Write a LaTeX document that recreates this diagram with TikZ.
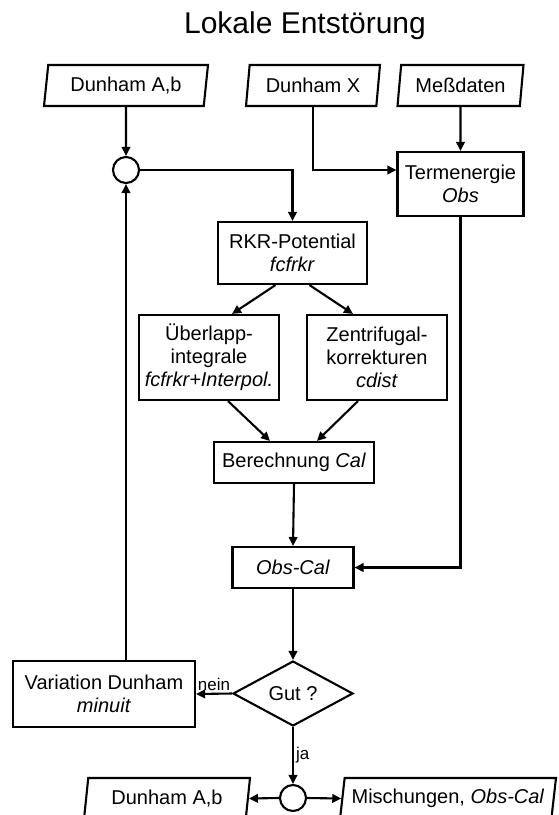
\documentclass[tikz,border=0pt]{standalone}
\usepackage{fontspec}
\setmainfont{Liberation Sans}
\usetikzlibrary{arrows.meta,shapes.geometric,calc}
\tikzset{
  txt/.style={font=\fontsize{20}{23}\selectfont},
  box/.style={draw,rectangle,align=center,inner sep=0pt,txt},
  data/.style={draw,trapezium,trapezium left angle=76,trapezium right angle=104,
    trapezium stretches body,inner sep=0pt,minimum height=41pt,txt},
  junction/.style={draw,circle,inner sep=0pt,minimum size=26pt},
  decide/.style={draw,diamond,aspect=2,inner sep=0pt,txt},
  arr/.style={-{Triangle[length=9pt,width=8.5pt]}},
  lbl/.style={font=\fontsize{17}{19}\selectfont,inner sep=2pt}
}

\begin{document}
\begin{tikzpicture}[x=1pt,y=-1pt,line width=2.1pt]
\useasboundingbox (0,0) rectangle (559,815);
\node[font=\fontsize{30}{34}\selectfont] (title) at (305,26) {Lokale Entstörung};
% Eingaben
\node[data,minimum width=164pt] (inAb) at (126,85.5) {Dunham A,b};
\node[data,minimum width=134pt] (inX) at (313,85.5) {Dunham X};
\node[data,minimum width=126pt] (inMess) at (460.5,85.5) {Meßdaten};
\node[junction] (merge) at (126,170) {};
\node[box,minimum width=126pt,minimum height=64pt] (term) at (460.5,184) {Termenergie\\\textit{Obs}};
% Rechnung
\node[box,minimum width=149pt,minimum height=62pt] (rkr) at (292.5,253) {RKR-Potential\\\textit{fcfrkr}};
\node[box,minimum width=140pt,minimum height=85pt] (ueber) at (209,357.5) {Überlapp-\\integrale\\\textit{fcfrkr+Interpol.}};
\node[box,minimum width=140pt,minimum height=85pt] (zentr) at (377,357.5) {Zentrifugal-\\korrekturen\\\textit{cdist}};
\node[box,minimum width=160pt,minimum height=41pt] (berech) at (294,462.5) {Berechnung \textit{Cal}};
\node[box,minimum width=121pt,minimum height=41pt] (obscal) at (293,567.5) {\textit{Obs-Cal}};
\node[decide,minimum width=120pt,minimum height=65pt] (gut) at (293,693.5) {Gut ?};
\node[box,minimum width=182pt,minimum height=66pt] (var) at (104,694) {Variation Dunham\\\textit{minuit}};
% Ausgaben
\node[junction] (split) at (293,798) {};
\node[data,minimum width=166pt] (outAb) at (167,798.5) {Dunham A,b};
\node[data,minimum width=216pt] (outMix) at (448,798.5) {Mischungen, \textit{Obs-Cal}};

\draw[arr] (inAb.south) -- (merge.north);
\draw[arr] (merge.east) -| (rkr.north);
\draw[arr] (inX.south) |- ([yshift=14pt]term.west);
\draw[arr] (inMess.south) -- (term.north);
\draw[arr] ([xshift=-17pt]rkr.south) -- ([xshift=23pt]ueber.north);
\draw[arr] ([xshift=17pt]rkr.south) -- ([xshift=-24pt]zentr.north);
\draw[arr] ([xshift=19pt]ueber.south) -- ([xshift=-24pt]berech.north);
\draw[arr] ([xshift=-19pt]zentr.south) -- ([xshift=23pt]berech.north);
\draw[arr] (berech.south) -- (obscal.north);
\draw[arr] (term.south) |- (obscal.east);
\draw[arr] (obscal.south) -- (gut.north);
\draw[arr] (gut.west) -- node[lbl,above] {nein} (var.east);
\draw[arr] (var.north -| merge) -- (merge.south);
\draw[arr] (gut.south) -- node[lbl,right] {ja} (split.north);
\draw[arr] (split.west) -- (outAb.east);
\draw[arr] (split.east) -- (outMix.west);
\end{tikzpicture}
\end{document}
